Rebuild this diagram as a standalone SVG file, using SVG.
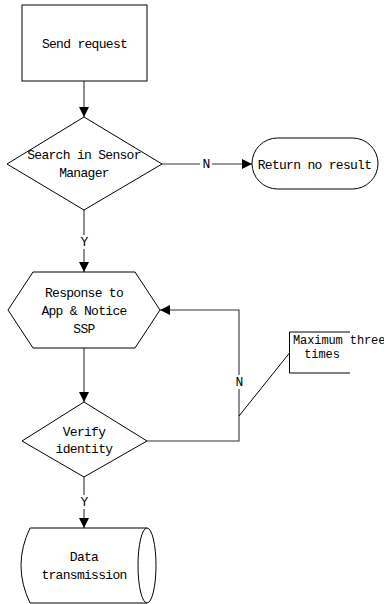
<svg xmlns="http://www.w3.org/2000/svg" width="384" height="604" viewBox="0 0 384 604">
<defs>
<style>
.s{fill:#fff;stroke:#000;stroke-width:1}
.c{fill:none;stroke:#333;stroke-width:1.1}
.t{font-family:"Liberation Mono",monospace;font-size:13px;letter-spacing:-0.7px;fill:#000;text-anchor:middle}
.ts{font-family:"Liberation Mono",monospace;font-size:12px;letter-spacing:-0.1px;fill:#000}
.tm{font-family:"Liberation Mono",monospace;font-size:12px;letter-spacing:-0.1px;fill:#000;text-anchor:middle}
.bg{fill:#fff;stroke:none}
</style>
<marker id="a" markerUnits="userSpaceOnUse" markerWidth="10" markerHeight="10" refX="10" refY="5" orient="auto">
<path d="M0,0 L10,5 L0,10 z" fill="#000"/>
</marker>
</defs>
<rect width="384" height="604" fill="#fff"/>
<g id="connectors">
<line class="c" x1="84" y1="81" x2="84" y2="117" marker-end="url(#a)"/>
<line class="c" x1="162" y1="164" x2="252" y2="164" marker-end="url(#a)"/>
<rect class="bg" x="200" y="157" width="12" height="14"/>
<text class="t" x="206" y="168">N</text>
<line class="c" x1="84" y1="210" x2="84" y2="272" marker-end="url(#a)"/>
<rect class="bg" x="78" y="235" width="12" height="14"/>
<text class="t" x="84" y="246">Y</text>
<line class="c" x1="84" y1="348" x2="84" y2="402" marker-end="url(#a)"/>
<polyline class="c" points="147,441 239,441 239,310 160,310" marker-end="url(#a)"/>
<rect class="bg" x="233" y="375" width="12" height="14"/>
<text class="t" x="239" y="386">N</text>
<line class="c" x1="84" y1="477" x2="84" y2="528" marker-end="url(#a)"/>
<rect class="bg" x="78" y="495" width="12" height="14"/>
<text class="t" x="84" y="506">Y</text>
</g>
<g id="send-request">
<rect class="s" x="22" y="5" width="125" height="76"/>
<text class="t" x="84.5" y="47.5">Send request</text>
</g>
<g id="search">
<polygon class="s" points="84,117 162,164 84,210 7,164"/>
<text class="t" x="84" y="159">Search in Sensor</text>
<text class="t" x="84" y="176.5">Manager</text>
</g>
<g id="return-no-result">
<rect class="s" x="252" y="138" width="126" height="51" rx="25.5" ry="25.5"/>
<text class="t" x="314.5" y="168.5">Return no result</text>
</g>
<g id="response">
<polygon class="s" points="33,272 135,272 160,310 135,348 33,348 8,310"/>
<text class="t" x="84" y="296.5">Response to</text>
<text class="t" x="84" y="314.5">App &amp; Notice</text>
<text class="t" x="84" y="332.5">SSP</text>
</g>
<g id="verify">
<polygon class="s" points="84,402 147,441 84,477 22,441"/>
<text class="t" x="84" y="435.5">Verify</text>
<text class="t" x="84" y="452.5">identity</text>
</g>
<g id="data-transmission">
<path class="s" d="M147,528 H30 Q12,565.5 30,603 H147 Z"/>
<ellipse class="s" cx="147" cy="565.5" rx="9" ry="37.5"/>
<text class="t" x="84" y="561">Data</text>
<text class="t" x="84" y="579">transmission</text>
</g>
<g id="annotation">
<path fill="none" stroke="#000" stroke-width="1" d="M350,332 H289.5 V373 H350"/>
<line stroke="#000" stroke-width="1" x1="289.5" y1="353" x2="239" y2="416"/>
<text class="ts" x="293" y="344">Maximum three</text>
<text class="tm" x="322" y="358">times</text>
</g>
</svg>
